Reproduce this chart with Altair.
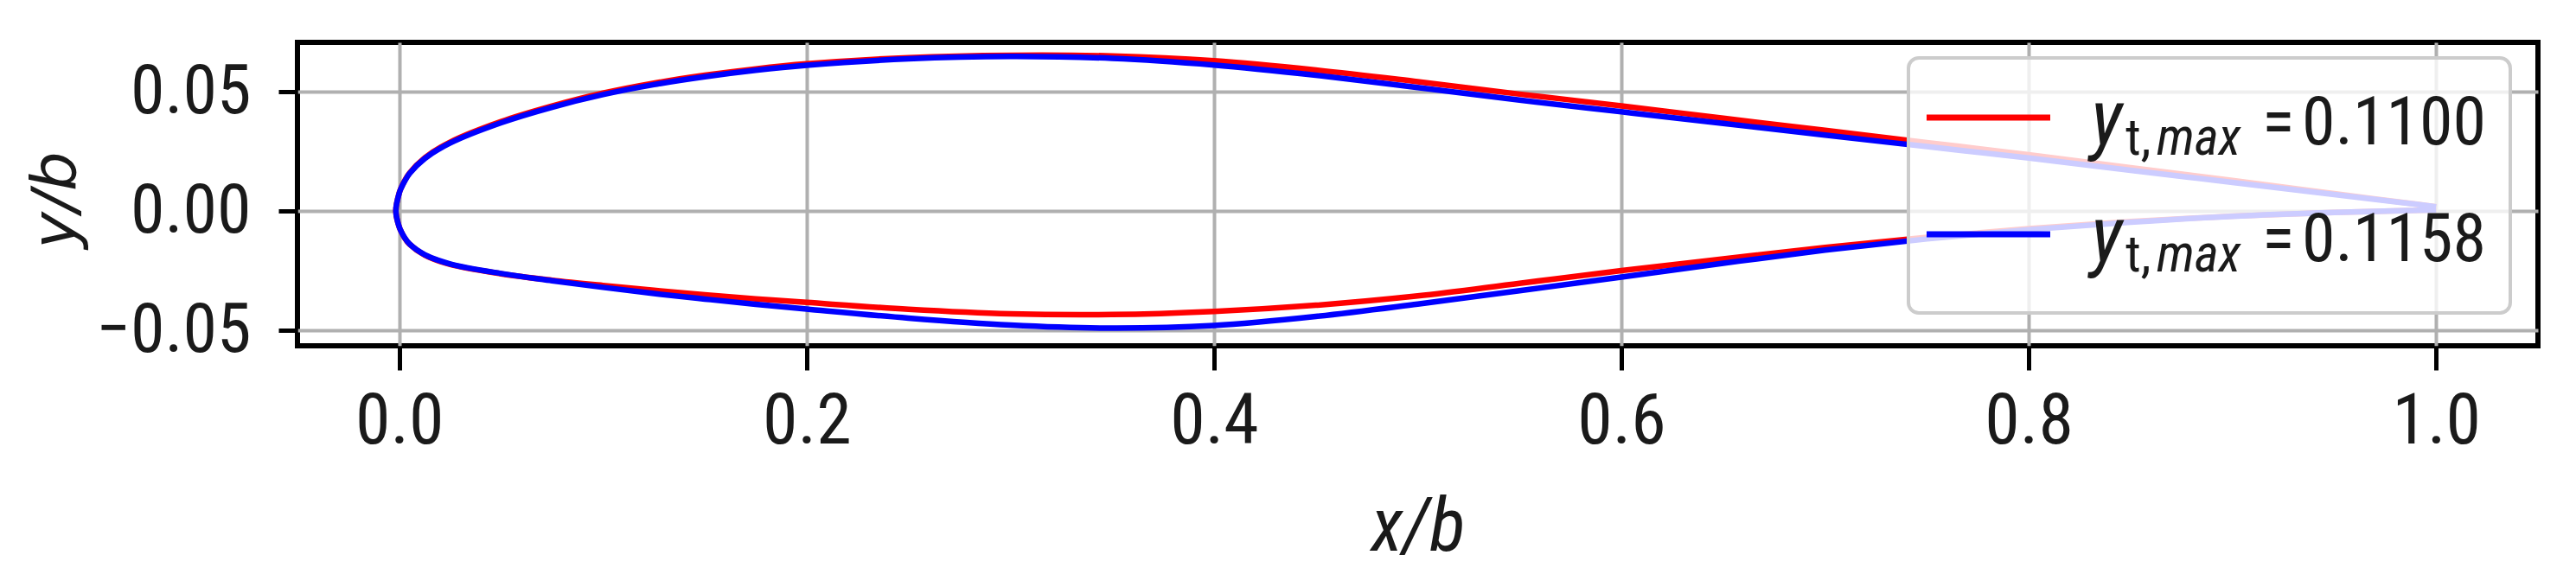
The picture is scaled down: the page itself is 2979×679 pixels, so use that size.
import altair as alt
import pandas as pd

# ---------------- data ----------------
X_STATIONS = [-0.0017, 0.0, 0.001, 0.0025, 0.005, 0.0125, 0.025, 0.05, 0.075, 0.1,
              0.125, 0.15, 0.175, 0.2, 0.25, 0.3, 0.35, 0.4, 0.45, 0.5,
              0.55, 0.6, 0.65, 0.7, 0.75, 0.8, 0.85, 0.9, 0.95, 1.0]

RED_UPPER = [0.0, 0.0077, 0.0099, 0.0125, 0.0159, 0.0223, 0.0289, 0.0375, 0.0440, 0.0494,
             0.0536, 0.0569, 0.0596, 0.0617, 0.0643, 0.0653, 0.0650, 0.0630, 0.0591, 0.0542,
             0.0490, 0.0441, 0.0389, 0.0338, 0.0287, 0.0236, 0.0182, 0.0128, 0.0073, 0.0018]
RED_LOWER = [0.0, -0.0068, -0.0087, -0.0111, -0.0139, -0.0185, -0.0224, -0.0263, -0.0290, -0.0312,
             -0.0332, -0.0351, -0.0368, -0.0383, -0.0412, -0.0431, -0.0434, -0.0421, -0.0395, -0.0356,
             -0.0303, -0.0250, -0.0201, -0.0153, -0.0110, -0.0074, -0.0044, -0.0021, -0.0006, 0.0005]

BLUE_UPPER = [0.0, 0.0076, 0.0098, 0.0123, 0.0157, 0.0220, 0.0285, 0.0370, 0.0435, 0.0488,
              0.0530, 0.0563, 0.0590, 0.0611, 0.0638, 0.0648, 0.0640, 0.0612, 0.0569, 0.0518,
              0.0465, 0.0416, 0.0367, 0.0318, 0.0270, 0.0222, 0.0171, 0.0120, 0.0069, 0.0018]
BLUE_LOWER = [0.0, -0.0068, -0.0087, -0.0110, -0.0138, -0.0183, -0.0222, -0.0262, -0.0292, -0.0320,
              -0.0346, -0.0369, -0.0391, -0.0411, -0.0449, -0.0478, -0.0491, -0.0480, -0.0442, -0.0390,
              -0.0334, -0.0277, -0.0219, -0.0164, -0.0117, -0.0078, -0.0047, -0.0022, -0.0006, 0.0005]

THICKNESS_LABELS = ["0.1100", "0.1158"]
SERIES_COLORS = ["#ff0000", "#0000ff"]
X_TICKS = [0.0, 0.2, 0.4, 0.6, 0.8, 1.0]
Y_TICKS = [-0.05, 0.0, 0.05]

# ---------------- styling / layout ----------------
FONT = "Roboto Condensed, Liberation Sans"
W, H = 2591, 351


def contour(upper, lower, name):
    xs = list(reversed(X_STATIONS)) + X_STATIONS[1:]
    ys = list(reversed(upper)) + lower[1:]
    return pd.DataFrame({"x": xs, "y": ys, "i": list(range(len(xs))), "series": name})


x_enc = alt.X(
    "x:Q",
    scale=alt.Scale(domain=[-0.05, 1.05], nice=False, zero=False),
    axis=alt.Axis(
        values=X_TICKS, format=".1f", title="x/b", grid=True,
        gridColor="#b0b0b0", gridWidth=4, gridOpacity=1, domain=False,
        tickColor="black", tickWidth=5, tickSize=28,
        labelFont=FONT, labelFontSize=82, labelColor="#1a1a1a", labelPadding=19,
        labelFlush=False, labelOverlap=False, labelLimit=0,
        titleFont=FONT, titleFontSize=86, titleFontStyle="italic",
        titleFontWeight="normal", titleColor="#1a1a1a",
        titleY=236, titleBaseline="alphabetic",
    ),
)
y_enc = alt.Y(
    "y:Q",
    scale=alt.Scale(domain=[-0.0565, 0.0707], nice=False, zero=False),
    axis=alt.Axis(
        values=Y_TICKS, format=".2f", title="y/b", grid=True,
        gridColor="#b0b0b0", gridWidth=4, gridOpacity=1, domain=False,
        tickColor="black", tickWidth=5, tickSize=22,
        labelFont=FONT, labelFontSize=80, labelColor="#1a1a1a", labelPadding=32,
        labelOverlap=False, labelLimit=0,
        titleFont="DejaVu Sans", titleFontSize=72, titleFontStyle="italic",
        titleFontWeight="normal", titleColor="#1a1a1a",
        titleX=-258, titleY=182, titleAngle=270, titleAlign="center",
        titleBaseline="alphabetic",
    ),
)
color_enc = alt.Color(
    "series:N",
    scale=alt.Scale(domain=THICKNESS_LABELS, range=SERIES_COLORS),
    legend=None,
)

layers = []
for lab, up, lo in [(THICKNESS_LABELS[0], RED_UPPER, RED_LOWER),
                    (THICKNESS_LABELS[1], BLUE_UPPER, BLUE_LOWER)]:
    layers.append(
        alt.Chart(contour(up, lo, lab))
        .mark_line(interpolate="catmull-rom", strokeWidth=6.5, clip=True)
        .encode(x=x_enc, y=y_enc, color=color_enc, order=alt.Order("i:Q"))
    )

# ---------------- hand-built legend (mixed italic / subscript text) ----------------
one = alt.Data(values=[{"k": 0}])
BOX = (1863, 18, 2559, 313)
ROW0, STEP = 118, 135

layers.append(
    alt.Chart(one).mark_rect(
        fill="white", fillOpacity=0.8, stroke="#cccccc", strokeWidth=4, cornerRadius=12
    ).encode(
        x=alt.value(BOX[0]), x2=alt.value(BOX[2]), y=alt.value(BOX[1]), y2=alt.value(BOX[3])
    )
)

for i, (lab, col) in enumerate(zip(THICKNESS_LABELS, SERIES_COLORS)):
    base = ROW0 + i * STEP
    layers.append(
        alt.Chart(one).mark_rule(color=col, strokeWidth=7).encode(
            x=alt.value(1884), x2=alt.value(2027), y=alt.value(base - 31)
        )
    )
    pieces = [
        ("y", 90, "italic", 2074, 0),
        ("t,", 60, "normal", 2114, 12),
        ("max", 60, "italic", 2150, 12),
        ("=", 78, "normal", 2272, 0),
        (lab, 78, "normal", 2318, 0),
    ]
    for txt, size, style, px, dy in pieces:
        layers.append(
            alt.Chart(one).mark_text(
                text=txt, font=FONT, fontSize=size, fontStyle=style,
                align="left", baseline="alphabetic", color="#1a1a1a"
            ).encode(x=alt.value(px), y=alt.value(base + dy))
        )

chart = (
    alt.layer(*layers)
    .properties(
        width=W, height=H,
        autosize=alt.AutoSizeParams(type="none"),
        padding={"left": 336, "top": 41, "right": 30, "bottom": 272},
        background="white",
    )
    .configure_view(stroke="black", strokeWidth=6)
)

chart.save("out.html", embed_options={"renderer": "svg", "actions": False})
